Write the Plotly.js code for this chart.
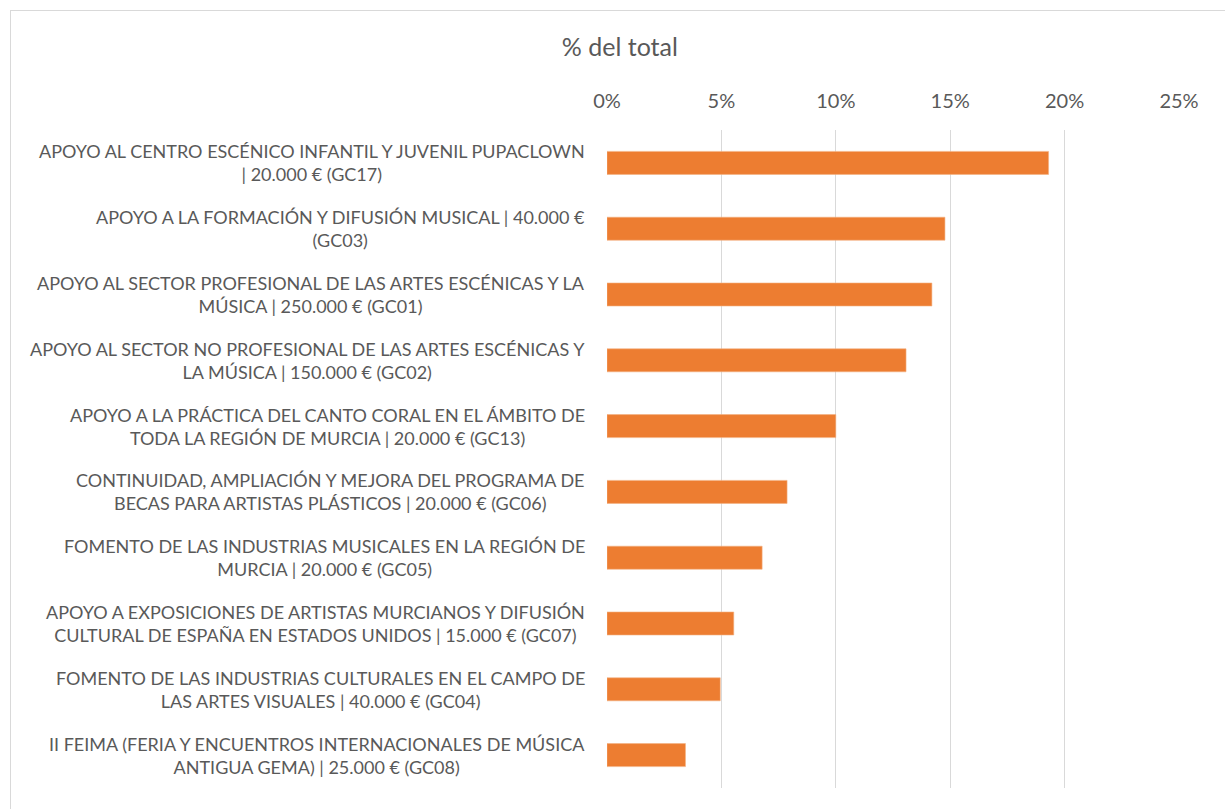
<!DOCTYPE html>
<html>
<head>
<meta charset="utf-8">
<script src="https://cdn.plot.ly/plotly-3.0.1.min.js"></script>
<style>
  html, body { margin: 0; padding: 0; background: #fff; }
  #frame { position: absolute; left: 10px; top: 10px; width: 1400px; height: 1000px;
           border-top: 1.5px solid #d9d9d9; border-left: 1.5px solid #d9d9d9; }
  #chart { position: absolute; left: 0; top: 0; width: 1225px; height: 809px; }
</style>
</head>
<body>
<div id="frame"></div>
<div id="chart"></div>
<script>
const categories = [
  "APOYO AL CENTRO ESCÉNICO INFANTIL Y JUVENIL PUPACLOWN<br>| 20.000 € (GC17)",
  "APOYO A LA FORMACIÓN Y DIFUSIÓN MUSICAL | 40.000 €<br>(GC03)",
  "APOYO AL SECTOR PROFESIONAL DE LAS ARTES ESCÉNICAS Y LA<br>MÚSICA | 250.000 € (GC01)",
  "APOYO AL SECTOR NO PROFESIONAL DE LAS ARTES ESCÉNICAS Y<br>LA MÚSICA | 150.000 € (GC02)",
  "APOYO A LA PRÁCTICA DEL CANTO CORAL EN EL ÁMBITO DE<br>TODA LA REGIÓN DE MURCIA | 20.000 € (GC13)",
  "CONTINUIDAD, AMPLIACIÓN Y MEJORA DEL PROGRAMA DE<br>BECAS PARA ARTISTAS PLÁSTICOS | 20.000 € (GC06)",
  "FOMENTO DE LAS INDUSTRIAS MUSICALES EN LA REGIÓN DE<br>MURCIA | 20.000 € (GC05)",
  "APOYO A EXPOSICIONES DE ARTISTAS MURCIANOS Y DIFUSIÓN<br>CULTURAL DE ESPAÑA EN ESTADOS UNIDOS | 15.000 € (GC07)",
  "FOMENTO DE LAS INDUSTRIAS CULTURALES EN EL CAMPO DE<br>LAS ARTES VISUALES | 40.000 € (GC04)",
  "II FEIMA (FERIA Y ENCUENTROS INTERNACIONALES DE MÚSICA<br>ANTIGUA GEMA) | 25.000 € (GC08)"
];
const percentOfTotal = [19.3, 14.77, 14.2, 13.07, 10.0, 7.87, 6.78, 5.54, 4.95, 3.43];
const tickValues = [0, 5, 10, 15, 20, 25];
const tickLabels = ["0%", "5%", "10%", "15%", "20%", "25%"];
const chartTitle = "% del total";

const FONT = "Lato, 'Open Sans', sans-serif";
const GREY = "#595959";

const trace = {
  type: "bar",
  orientation: "h",
  x: percentOfTotal,
  y: categories,
  marker: { color: "#ED7D31", line: { color: "#F4B183", width: 0.6 } },
  hoverinfo: "skip"
};

const annotations = categories.map(c => ({
  text: c,
  xref: "x", yref: "y",
  x: 0, y: c,
  xanchor: "right", yanchor: "middle",
  xshift: -20,
  align: "center",
  showarrow: false,
  font: { family: FONT, size: 18, color: GREY }
}));

const layout = {
  width: 1225, height: 809,
  paper_bgcolor: "rgba(0,0,0,0)",
  plot_bgcolor: "rgba(0,0,0,0)",
  margin: { l: 607, r: 46, t: 130, b: 21 },
  bargap: 0.65,
  showlegend: false,
  title: {
    text: chartTitle,
    xref: "container", yref: "container",
    x: 0.506, y: 1 - 47 / 809,
    xanchor: "center", yanchor: "middle",
    font: { family: FONT, size: 25, color: GREY }
  },
  xaxis: {
    side: "top",
    range: [0, 25],
    tickvals: tickValues,
    ticktext: tickLabels,
    showgrid: true,
    gridcolor: "#d9d9d9",
    gridwidth: 1,
    zeroline: false,
    showline: false,
    ticks: "",
    ticklabelstandoff: 17,
    tickfont: { family: FONT, size: 20, color: GREY },
    fixedrange: true
  },
  yaxis: {
    autorange: "reversed",
    showticklabels: false,
    showgrid: false,
    zeroline: false,
    showline: false,
    ticks: "",
    fixedrange: true
  },
  annotations: annotations
};

Plotly.newPlot("chart", [trace], layout, { displayModeBar: false, staticPlot: true });
</script>
</body>
</html>
